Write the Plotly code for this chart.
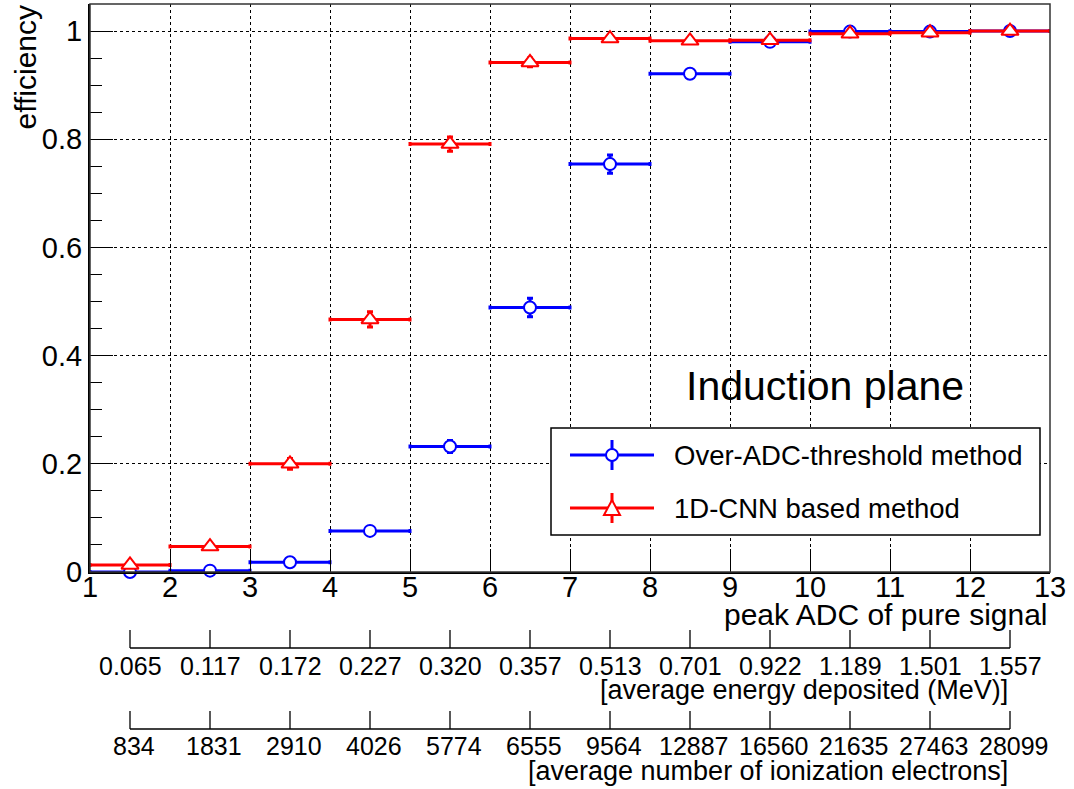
import plotly.graph_objects as go

# ---------------- data ----------------
bin_edges = [1, 2, 3, 4, 5, 6, 7, 8, 9, 10, 11, 12, 13]
x_centers = [(a + b) / 2 for a, b in zip(bin_edges[:-1], bin_edges[1:])]
x_half = [(b - a) / 2 for a, b in zip(bin_edges[:-1], bin_edges[1:])]

over_adc_eff = [0.000, 0.0025, 0.018, 0.076, 0.232, 0.489, 0.754, 0.921, 0.980, 0.999, 0.999, 1.000]
over_adc_err = [0.001, 0.002, 0.004, 0.007, 0.011, 0.017, 0.017, 0.008, 0.005, 0.002, 0.002, 0.001]
cnn_eff = [0.013, 0.047, 0.200, 0.467, 0.791, 0.942, 0.986, 0.982, 0.983, 0.995, 0.997, 1.000]
cnn_err = [0.003, 0.005, 0.010, 0.014, 0.013, 0.008, 0.004, 0.004, 0.004, 0.002, 0.002, 0.001]

x_ticks = list(range(1, 14))
y_ticks = [0, 0.2, 0.4, 0.6, 0.8, 1.0]
y_ticktext = ["0", "0.2", "0.4", "0.6", "0.8", "1"]

energy_labels = ["0.065", "0.117", "0.172", "0.227", "0.320", "0.357",
                 "0.513", "0.701", "0.922", "1.189", "1.501", "1.557"]
electron_labels = ["834", "1831", "2910", "4026", "5774", "6555",
                   "9564", "12887", "16560", "21635", "27463", "28099"]

series_names = ["Over-ADC-threshold method", "1D-CNN based method"]
BLUE = "rgb(0,0,255)"
RED = "rgb(255,0,0)"
FONT = "Liberation Sans, Arial, Helvetica, sans-serif"

# ---------------- layout geometry (pixels) ----------------
W, H = 1074, 789
PL, PR, PT, PB = 90, 1050, 4, 572  # plot area box


def px2x(p):
    return (p - PL) / (PR - PL)


def px2y(p):
    return (PB - p) / (PB - PT)


fig = go.Figure()

fig.add_trace(go.Scatter(
    x=x_centers, y=over_adc_eff, mode="markers", name=series_names[0],
    error_x=dict(type="data", array=x_half, symmetric=True, color=BLUE, thickness=3, width=2),
    error_y=dict(type="data", array=over_adc_err, symmetric=True, color=BLUE, thickness=3, width=3),
    marker=dict(symbol="circle", size=12, color="white", line=dict(color=BLUE, width=2)),
    cliponaxis=False, showlegend=False,
))
fig.add_trace(go.Scatter(
    x=x_centers, y=cnn_eff, mode="markers", name=series_names[1],
    error_x=dict(type="data", array=x_half, symmetric=True, color=RED, thickness=3, width=2),
    error_y=dict(type="data", array=cnn_err, symmetric=True, color=RED, thickness=3, width=3),
    marker=dict(symbol="triangle-up", size=15, color="white", line=dict(color=RED, width=2)),
    cliponaxis=False, showlegend=False,
))

shapes = []
annotations = []

# frame (top / right)
shapes.append(dict(type="rect", xref="paper", yref="paper", x0=0, x1=1, y0=0, y1=1,
                   line=dict(color="#333333", width=1.5), layer="above"))

# ---------- legend (drawn manually, ROOT style) ----------
shapes.append(dict(type="rect", xref="paper", yref="paper",
                   x0=px2x(551), x1=px2x(1040), y0=px2y(535), y1=px2y(428),
                   line=dict(color="black", width=1.5), fillcolor="white", layer="above"))
leg_rows = [(455, BLUE, "circle"), (508, RED, "triangle")]
for (yc, col, sym), name in zip(leg_rows, series_names):
    shapes.append(dict(type="line", xref="paper", yref="paper",
                       x0=px2x(570), x1=px2x(654), y0=px2y(yc), y1=px2y(yc),
                       line=dict(color=col, width=3), layer="above"))
    shapes.append(dict(type="line", xref="paper", yref="paper",
                       x0=px2x(612), x1=px2x(612), y0=px2y(yc - 15), y1=px2y(yc + 15),
                       line=dict(color=col, width=3), layer="above"))
    if sym == "circle":
        shapes.append(dict(type="circle", xref="paper", yref="paper",
                           x0=px2x(606), x1=px2x(618), y0=px2y(yc + 6), y1=px2y(yc - 6),
                           line=dict(color=col, width=2), fillcolor="white", layer="above"))
    else:
        path = "M {} {} L {} {} L {} {} Z".format(
            px2x(604), px2y(yc + 7), px2x(620), px2y(yc + 7), px2x(612), px2y(yc - 8))
        shapes.append(dict(type="path", xref="paper", yref="paper", path=path,
                           line=dict(color=col, width=2), fillcolor="white", layer="above"))
    annotations.append(dict(xref="paper", yref="paper", x=px2x(672), y=px2y(yc),
                            xanchor="left", yanchor="middle", text=name, showarrow=False,
                            font=dict(family=FONT, size=27.5, color="black")))

# ---------- secondary axes below ----------
sec_axes = [
    (648, 18, energy_labels, 666, "[average energy deposited (MeV)]", 690, 0),
    (729, 18, electron_labels, 746, "[average number of ionization electrons]", 771, 4),
]
for line_y, tlen, labels, lab_y, title, title_y, xshift in sec_axes:
    shapes.append(dict(type="line", xref="x", yref="paper",
                       x0=x_centers[0], x1=x_centers[-1], y0=px2y(line_y), y1=px2y(line_y),
                       line=dict(color="black", width=1.3), layer="above"))
    for xc, lab in zip(x_centers, labels):
        shapes.append(dict(type="line", xref="x", yref="paper",
                           x0=xc, x1=xc, y0=px2y(line_y), y1=px2y(line_y - tlen),
                           line=dict(color="black", width=1.3), layer="above"))
        annotations.append(dict(xref="x", yref="paper", x=xc, y=px2y(lab_y),
                                xanchor="center", yanchor="middle", text=lab, showarrow=False,
                                xshift=xshift,
                                font=dict(family=FONT, size=25, color="black")))
    annotations.append(dict(xref="x", yref="paper", x=x_centers[-1], y=px2y(title_y),
                            xanchor="right", yanchor="middle", text=title, showarrow=False,
                            font=dict(family=FONT, size=27, color="black")))

# axis titles
annotations.append(dict(xref="paper", yref="paper", x=1.0, y=px2y(614),
                        xanchor="right", yanchor="middle", text="peak ADC of pure signal",
                        showarrow=False, font=dict(family=FONT, size=30, color="black")))
annotations.append(dict(xref="paper", yref="paper", x=px2x(25), y=px2y(3),
                        xanchor="center", yanchor="top", text="efficiency", textangle=-90,
                        showarrow=False, font=dict(family=FONT, size=30, color="black")))
# plot label
annotations.append(dict(xref="paper", yref="paper", x=px2x(825), y=px2y(386),
                        xanchor="center", yanchor="middle", text="Induction plane",
                        showarrow=False, font=dict(family=FONT, size=41, color="black")))

fig.update_layout(
    width=W, height=H,
    margin=dict(l=PL, r=W - PR, t=PT, b=H - PB, pad=0),
    paper_bgcolor="white", plot_bgcolor="white",
    font=dict(family=FONT, color="black"),
    shapes=shapes, annotations=annotations,
    showlegend=False,
)
fig.update_xaxes(
    range=[bin_edges[0], bin_edges[-1]], tickvals=x_ticks, ticks="inside", ticklen=23,
    tickwidth=1, tickcolor="black", showgrid=True, gridcolor="black", griddash="dot",
    gridwidth=1, showline=True, linecolor="black", linewidth=2, zeroline=False,
    ticklabelstandoff=-12,
    tickfont=dict(family=FONT, size=29, color="black"),
)
fig.update_yaxes(
    range=[0, 1.05], tickvals=y_ticks, ticktext=y_ticktext, ticks="inside", ticklen=23,
    tickwidth=1, tickcolor="black", showgrid=True, gridcolor="black", griddash="dot",
    gridwidth=1, showline=True, linecolor="black", linewidth=2, zeroline=False,
    minor=dict(dtick=0.05, ticks="inside", ticklen=12, tickwidth=1, tickcolor="black", showgrid=False),
    tickfont=dict(family=FONT, size=29, color="black"),
)

fig.write_html("out.html")
